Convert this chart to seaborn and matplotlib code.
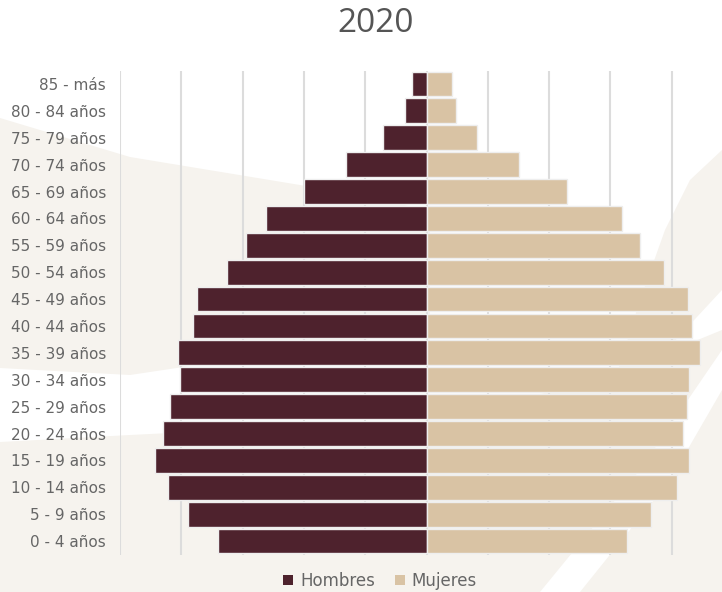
import matplotlib
matplotlib.use("Agg")
import matplotlib.pyplot as plt
from matplotlib.patches import Patch, Polygon
import seaborn as sns
import pandas as pd

# age groups, top of the pyramid first
grupos = ["85 - más", "80 - 84 años", "75 - 79 años", "70 - 74 años", "65 - 69 años",
          "60 - 64 años", "55 - 59 años", "50 - 54 años", "45 - 49 años", "40 - 44 años",
          "35 - 39 años", "30 - 34 años", "25 - 29 años", "20 - 24 años", "15 - 19 años",
          "10 - 14 años", "5 - 9 años", "0 - 4 años"]
hombres = [0.24, 0.35, 0.71, 1.31, 2.00, 2.62, 2.94, 3.25, 3.74, 3.81,
           4.05, 4.02, 4.18, 4.30, 4.43, 4.22, 3.89, 3.40]
mujeres = [0.42, 0.48, 0.82, 1.51, 2.29, 3.19, 3.48, 3.87, 4.27, 4.33,
           4.46, 4.28, 4.25, 4.18, 4.28, 4.09, 3.66, 3.27]

df = pd.DataFrame({"grupo": grupos,
                   "Hombres": [-v for v in hombres],
                   "Mujeres": mujeres})

c_h = "#4e222d"
c_m = "#d9c3a4"
beige = "#f6f3ee"

sns.set_style("white")
plt.rcParams["font.family"] = ["DejaVu Sans"]

W, H = 722, 592
fig = plt.figure(figsize=(W / 100, H / 100), dpi=100)
fig.patch.set_facecolor("white")


# soft decorative background shapes (pixel coords, y from top)
def bg(points):
    pts = [(x / W, 1 - y / H) for x, y in points]
    fig.patches.append(Polygon(pts, closed=True, transform=fig.transFigure,
                               facecolor=beige, edgecolor="none", zorder=-5))


bg([(0, 118), (130, 157), (300, 185), (430, 210), (430, 330), (130, 375), (0, 368)])
bg([(0, 442), (130, 435), (430, 420), (600, 380), (722, 330), (722, 350),
    (640, 470), (540, 592), (0, 592)])
bg([(722, 150), (690, 180), (665, 230), (640, 300), (615, 380), (620, 400),
    (722, 290)])
bg([(722, 390), (670, 480), (580, 592), (722, 592)])

ax = fig.add_axes([120 / W, 1 - 554.5 / H, (W - 120) / W, 484 / H])
ax.set_facecolor("none")
ax.set_zorder(2)

sns.barplot(data=df, y="grupo", x="Hombres", order=grupos, color=c_h,
            width=0.92, edgecolor="#eeeeee", linewidth=1, saturation=1, ax=ax)
sns.barplot(data=df, y="grupo", x="Mujeres", order=grupos, color=c_m,
            width=0.92, edgecolor="#eeeeee", linewidth=1, saturation=1, ax=ax)

ax.set_xlim(-5, (W - 426.5) / 61.3)
ax.set_ylim(17.5, -0.5)
ax.set_xticks(range(-5, 5))
ax.xaxis.grid(True, color="#dcdcdc", linewidth=1.5)
ax.set_axisbelow(True)
ax.tick_params(axis="x", length=0, labelbottom=False)
ax.tick_params(axis="y", length=0, pad=10, labelsize=11, labelcolor="#666666")
ax.set_xlabel("")
ax.set_ylabel("")
sns.despine(ax=ax, left=True, bottom=True)

fig.text(376 / W, 1 - 23 / H, "2020", ha="center", va="center",
         fontsize=24, color="#555555", family=["Open Sans", "DejaVu Sans"])

handles = [Patch(facecolor=c_h, edgecolor="none", label="Hombres"),
           Patch(facecolor=c_m, edgecolor="none", label="Mujeres")]
fig.legend(handles=handles, loc="center", bbox_to_anchor=(380 / W, 1 - 581 / H),
           ncol=2, frameon=False, fontsize=12, labelcolor="#666666",
           handlelength=0.6, handleheight=0.6, handletextpad=0.4, columnspacing=1.2)

fig.savefig("out.png", dpi=100)
